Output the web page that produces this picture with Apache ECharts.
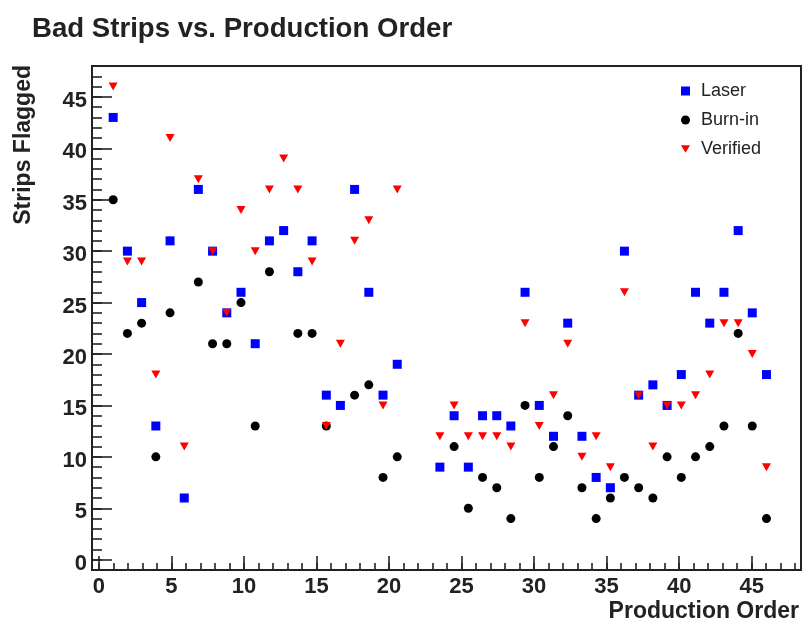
<!DOCTYPE html>
<html>
<head>
<meta charset="utf-8">
<script src="https://cdn.jsdelivr.net/npm/echarts@6/dist/echarts.min.js"></script>
<style>
  html, body { margin: 0; padding: 0; background: #fff; }
  #chart { width: 803px; height: 625px; }
</style>
</head>
<body>
<div id="chart"></div>
<script>
// Production order of each module (no modules at positions 22 and 23)
const productionOrder = [
  0.99, 1.97, 2.95, 3.93, 4.91, 5.89, 6.86, 7.84, 8.82, 9.80,
  10.78, 11.76, 12.74, 13.72, 14.70, 15.68, 16.65, 17.63, 18.61, 19.59,
  20.57,
  23.51, 24.49, 25.47, 26.45, 27.43, 28.40, 29.38, 30.36, 31.34, 32.32,
  33.30, 34.28, 35.26, 36.23, 37.21, 38.19, 39.17, 40.15, 41.13, 42.11,
  43.09, 44.07, 45.04, 46.02
];

// Strips flagged at each test stage (null = not measured)
const laser = [
  43, 30, 25, 13, 31, 6, 36, 30, 24, 26,
  21, 31, 32, 28, 31, 16, 15, 36, 26, 16,
  19,
  9, 14, 9, 14, 14, 13, 26, 15, 12, 23,
  12, 8, 7, 30, 16, 17, 15, 18, 26, 23,
  26, 32, 24, 18
];
const burnIn = [
  35, 22, 23, 10, 24, null, 27, 21, 21, 25,
  13, 28, null, 22, 22, 13, null, 16, 17, 8,
  10,
  null, 11, 5, 8, 7, 4, 15, 8, 11, 14,
  7, 4, 6, 8, 7, 6, 10, 8, 10, 11,
  13, 22, 13, 4
];
const verified = [
  46, 29, 29, 18, 41, 11, 37, 30, 24, 34,
  30, 36, 39, 36, 29, 13, 21, 31, 33, 15,
  36,
  12, 15, 12, 12, 12, 11, 23, 13, 16, 21,
  10, 12, 9, 26, 16, 11, 15, 15, 16, 18,
  23, 23, 20, 9
];

const seriesNames = ['Laser', 'Burn-in', 'Verified'];
const xMajorTicks = [0, 5, 10, 15, 20, 25, 30, 35, 40, 45];
const yMajorTicks = [0, 5, 10, 15, 20, 25, 30, 35, 40, 45];
const xMinorTicks = Array.from({ length: 49 }, (_, i) => i);
const yMinorTicks = Array.from({ length: 48 }, (_, i) => i);

const X_MIN = -0.47, X_MAX = 48.4;
const Y_MIN = -1, Y_MAX = 48;

const FONT = '"Liberation Sans", Arial, Helvetica, sans-serif';
const INK = '#222';

function points(values) {
  const out = [];
  values.forEach((v, i) => { if (v !== null) out.push([productionOrder[i], v]); });
  return out;
}

const triangleDown = 'path://M0,0 L10,0 L5,8.5 Z';

const chart = echarts.init(document.getElementById('chart'), null, { renderer: 'canvas' });

const baseX = { type: 'value', min: X_MIN, max: X_MAX, gridIndex: 0, position: 'bottom',
  splitLine: { show: false }, axisLine: { show: false, onZero: false } };
const baseY = { type: 'value', min: Y_MIN, max: Y_MAX, gridIndex: 0, position: 'left',
  splitLine: { show: false }, axisLine: { show: false, onZero: false } };

chart.setOption({
  animation: false,
  backgroundColor: '#fff',
  grid: { left: 92, top: 66, right: 2, bottom: 55, show: true,
    borderColor: INK, borderWidth: 2, backgroundColor: 'transparent', containLabel: false },
  xAxis: [
    Object.assign({}, baseX, {
      axisTick: { show: true, inside: true, length: 7, customValues: xMinorTicks,
        lineStyle: { color: INK, width: 1.6 } },
      axisLabel: { show: false }
    }),
    Object.assign({}, baseX, {
      axisTick: { show: true, inside: true, length: 14, customValues: xMajorTicks,
        lineStyle: { color: INK, width: 1.6 } },
      axisLabel: { show: true, customValues: xMajorTicks, margin: 6,
        fontFamily: FONT, fontWeight: 'bold', fontSize: 22, color: INK }
    })
  ],
  yAxis: [
    Object.assign({}, baseY, {
      axisTick: { show: true, inside: true, length: 10, customValues: yMinorTicks,
        lineStyle: { color: INK, width: 1.6 } },
      axisLabel: { show: false }
    }),
    Object.assign({}, baseY, {
      axisTick: { show: true, inside: true, length: 20, customValues: yMajorTicks,
        lineStyle: { color: INK, width: 1.6 } },
      axisLabel: { show: true, customValues: yMajorTicks, margin: 5,
        verticalAlign: 'top', lineHeight: 8,
        fontFamily: FONT, fontWeight: 'bold', fontSize: 22, color: INK }
    })
  ],
  legend: {
    data: seriesNames,
    orient: 'vertical',
    left: 676, top: 77,
    itemWidth: 9, itemHeight: 9, itemGap: 11,
    textStyle: { fontFamily: FONT, fontSize: 18, color: INK, padding: [0, 0, 0, 6] }
  },
  graphic: [
    { type: 'text', left: 32, top: 15,
      style: { text: 'Bad Strips vs. Production Order', font: 'bold 27.6px ' + FONT, fill: INK } },
    { type: 'text', x: 24, y: 65, rotation: Math.PI / 2,
      style: { text: 'Strips Flagged', font: 'bold 23px ' + FONT, fill: INK,
        align: 'right', verticalAlign: 'middle' } },
    { type: 'text', x: 799, y: 612,
      style: { text: 'Production Order', font: 'bold 23px ' + FONT, fill: INK,
        align: 'right', verticalAlign: 'middle' } }
  ],
  series: [
    { name: seriesNames[0], type: 'scatter', xAxisIndex: 0, yAxisIndex: 0,
      symbol: 'rect', symbolSize: 9, itemStyle: { color: '#0000ff', opacity: 1 },
      data: points(laser) },
    { name: seriesNames[1], type: 'scatter', xAxisIndex: 0, yAxisIndex: 0,
      symbol: 'circle', symbolSize: 9, itemStyle: { color: '#000000', opacity: 1 },
      data: points(burnIn) },
    { name: seriesNames[2], type: 'scatter', xAxisIndex: 0, yAxisIndex: 0,
      symbol: triangleDown, symbolSize: [9, 8], itemStyle: { color: '#ff0000', opacity: 1 },
      data: points(verified) }
  ]
});
</script>
</body>
</html>
